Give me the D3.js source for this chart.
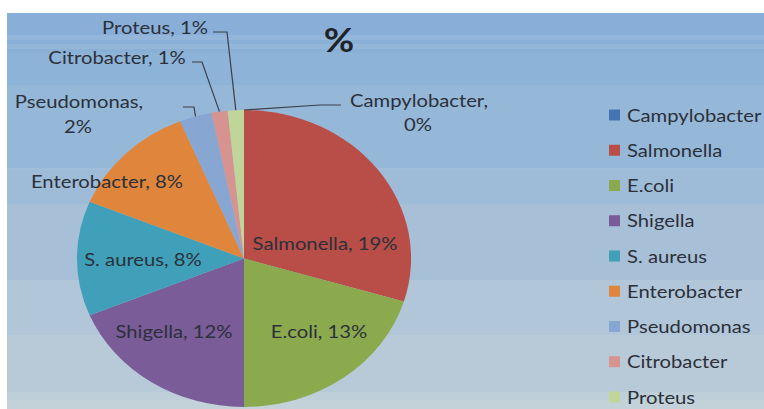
<!DOCTYPE html>
<html><head><meta charset="utf-8">
<script src="https://cdn.jsdelivr.net/npm/d3@7"></script>
<style>html,body{margin:0;padding:0;background:#fff;overflow:hidden}</style>
</head><body>
<svg id="chart" width="764" height="409"></svg>
<script>
// ---- data ----
const categories = ["Campylobacter","Salmonella","E.coli","Shigella","S. aureus","Enterobacter","Pseudomonas","Citrobacter","Proteus"];
const values = [0, 19, 13, 12, 8, 8, 2, 1, 1];
const labelTexts = ["Campylobacter, 0%","Salmonella, 19%","E.coli, 13%","Shigella, 12%","S. aureus, 8%","Enterobacter, 8%","Pseudomonas, 2%","Citrobacter, 1%","Proteus, 1%"];
const title = "%";

// ---- styles ----
const colors = ["#4674B1","#B94D47","#8BAA4E","#7A5C98","#40A0BA","#E0863C","#87A6D2","#D6938F","#C0D59A"];
const sx = 1.125; // horizontal stretch of the original picture
const svg = d3.select("#chart");
const font = "Lato, 'Open Sans', sans-serif";
const textColor = "#2b303a";

// background bands
const bands = [
  [13,35,"#89AED7"],[35,40,"#93B6DA"],[40,44,"#8AB0D7"],[44,49,"#93B6D9"],[49,53,"#8AB0D6"],
  [53,85,"#8EB3D8"],[85,168,"#96B8D8"],[168,170,"#A0BEDA"],[170,204,"#9EBCD8"],[204,280,"#A8BFD8"],
  [280,335,"#B1C6D8"],[335,392,"#B8C9D7"],[392,400,"#BECFD9"],[400,409,"#C3D1D9"]
];
svg.selectAll("rect.bg").data(bands).join("rect").attr("class","bg")
  .attr("x",7).attr("width",757).attr("y",d=>d[0]).attr("height",d=>d[1]-d[0]).attr("fill",d=>d[2]);

const g = svg.append("g").attr("transform",`scale(${sx},1)`);
const X = x => x / sx; // convert picture px to inner coords

const cx = X(244), cy = 258.5, R = 148.5;
const pie = d3.pie().sort(null).value(d=>d.v).startAngle(0).endAngle(2*Math.PI);
const data = categories.map((c,i)=>({name:c, v:values[i], color:colors[i], label:labelTexts[i]}));
const arcs = pie(data);
const arc = d3.arc().innerRadius(0).outerRadius(R);

const pg = g.append("g").attr("transform",`translate(${cx},${cy})`);
pg.selectAll("path").data(arcs).join("path")
  .attr("d",arc).attr("fill",d=>d.data.color);

// label positions (picture px): [x, y-baseline]
const labelPos = {
  "Salmonella":[325,250],
  "E.coli":[319,338],
  "Shigella":[174,338],
  "S. aureus":[143,266],
  "Enterobacter":[107,188],
  "Pseudomonas":[[79,108],[78,133]],
  "Citrobacter":[117,64],
  "Proteus":[155,34],
  "Campylobacter":[[419,107],[418,131]]
};
// leader bends (picture px)
const leaderPts = {
  "Proteus":[[227,32],[213,32]],
  "Citrobacter":[[202,62],[192,62]],
  "Pseudomonas":[[194,107],[183,107]],
  "Campylobacter":[[320,105],[341,105]]
};

const lab = g.append("g").attr("font-family",font).attr("font-size",18).attr("fill",textColor).attr("text-anchor","middle");
arcs.forEach(a=>{
  const n = a.data.name, p = labelPos[n];
  if (Array.isArray(p[0])) {
    const parts = a.data.label.split(" ");
    const t = lab.append("text");
    t.append("tspan").attr("x",X(p[0][0])).attr("y",p[0][1]).text(parts[0]);
    t.append("tspan").attr("x",X(p[1][0])).attr("y",p[1][1]).text(parts.slice(1).join(" "));
  } else {
    lab.append("text").attr("x",X(p[0])).attr("y",p[1]).text(a.data.label);
  }
  if (leaderPts[n]) {
    const mid = (a.startAngle + a.endAngle)/2;
    const s = d3.arc().innerRadius(R).outerRadius(R).startAngle(mid).endAngle(mid).centroid();
    const pts = [[cx+s[0], cy+s[1]], ...leaderPts[n].map(q=>[X(q[0]), q[1]])];
    g.append("path").attr("d", d3.line()(pts)).attr("fill","none")
      .attr("stroke","#3a3f48").attr("stroke-width",1.2).attr("vector-effect","non-scaling-stroke");
  }
});

// title
g.append("text").attr("x",X(339)).attr("y",52).attr("text-anchor","middle")
  .attr("font-family",font).attr("font-weight","bold").attr("font-size",33).attr("fill","#1f2228").text(title);

// legend
const ly = d3.scalePoint().domain(categories).range([115,397]);
const lg = g.append("g").attr("font-family",font).attr("font-size",18).attr("fill",textColor);
const items = lg.selectAll("g").data(data).join("g").attr("transform",d=>`translate(${X(609)},${ly(d.name)})`);
items.append("rect").attr("x",0).attr("y",-5.5).attr("width",X(11)).attr("height",11).attr("fill",d=>d.color);
items.append("text").attr("x",X(18)).attr("y",6.5).text(d=>d.name);
</script>
</body></html>
